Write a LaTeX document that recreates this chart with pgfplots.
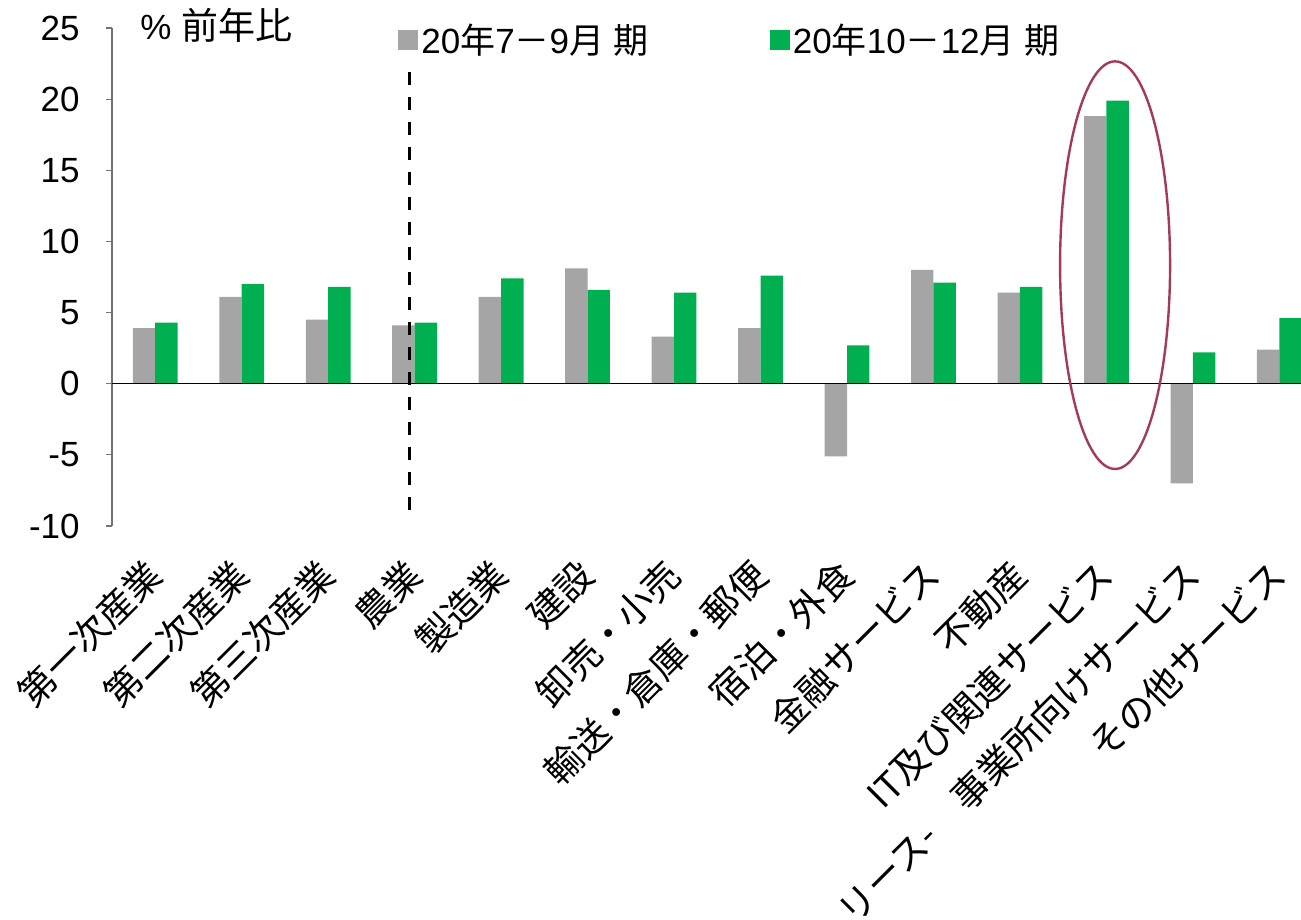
\documentclass[border=0pt]{standalone}
\usepackage{pgfplots}
\pgfplotsset{compat=1.18}
\usepackage{fontspec}
\setmainfont{Liberation Sans}
\newfontfamily\cjk{Noto Sans CJK JP}
\definecolor{cgray}{HTML}{A5A5A5}
\definecolor{cgreen}{HTML}{00B050}
\definecolor{cellipse}{HTML}{A33A5C}
\newcommand{\fs}{\fontsize{17.5}{21}\selectfont}
\newcommand{\fl}{\fontsize{18.5}{22}\selectfont}
\begin{document}
\begin{tikzpicture}
\begin{axis}[
 width=594.5pt, height=249pt, scale only axis,
 xmin=-0.5, xmax=13.25, ymin=-10, ymax=25,
 clip=false,
 axis x line*=bottom, axis y line*=left,
 x axis line style={draw=none},
 y axis line style={draw=black!55, line width=0.6pt, -},
 xtick={0,...,13}, xtick style={draw=none},
 xticklabels={第一次産業,第二次産業,第三次産業,農業,製造業,建設,卸売・小売,輸送・倉庫・郵便,宿泊・外食,金融サービス,不動産,IT及び関連サービス,リース-　事業所向けサービス,その他サービス},
 xticklabel style={font=\cjk\fl, yshift=-18pt, rotate=45, anchor=east, inner sep=0pt},
 ytick={-10,-5,...,25}, yticklabels={-10,-5,0,5,10,15,20,25},
 yticklabel style={font=\fs, inner sep=0pt, xshift=-13pt},
 tick align=outside, major tick length=3pt,
 ytick style={draw=black!55, line width=0.6pt},
 ybar, bar width=11.2pt,
 legend columns=2,
 legend style={at={(0.2405,0.976)}, anchor=west, draw=none, fill=none, inner sep=0pt, font=\fs,
   nodes={inner sep=1.5pt},
   /tikz/every even column/.append style={column sep=59pt}},
]
\addplot[fill=cgray, draw=none, bar shift=-5.6pt,
  legend image code/.code={\fill[cgray] (0pt,-5pt) rectangle (10pt,5pt);}]
 coordinates {(0,3.9) (1,6.1) (2,4.5) (3,4.1) (4,6.1) (5,8.1) (6,3.3) (7,3.9) (8,-5.1) (9,8.0) (10,6.4) (11,18.8) (12,-7.0) (13,2.4)};
\addlegendentry{20{\cjk 年}7{\cjk －}9{\cjk 月} {\cjk 期}}
\addplot[fill=cgreen, draw=none, bar shift=5.6pt,
  legend image code/.code={\fill[cgreen] (0pt,-5pt) rectangle (10pt,5pt);}]
 coordinates {(0,4.3) (1,7.0) (2,6.8) (3,4.3) (4,7.4) (5,6.6) (6,6.4) (7,7.6) (8,2.7) (9,7.1) (10,6.8) (11,19.9) (12,2.2) (13,4.6)};
\addlegendentry{20{\cjk 年}10{\cjk －}12{\cjk 月} {\cjk 期}}
\draw[black, line width=0.8pt] (axis cs:-0.5,0) -- (axis cs:13.25,0);
\draw[black, line width=1.5pt, dash pattern=on 6.5pt off 6pt] (axis cs:2.94,21.9) -- (axis cs:2.94,-9.2);
\draw[cellipse, line width=1.2pt] (axis cs:11.1,8.33) ellipse [x radius=27.5pt, y radius=101.9pt];
\node[anchor=west, font=\fs, inner sep=0pt] at (rel axis cs:0.0235,1.006) {\%{} {\cjk\fl 前年比}};
\coordinate (ll) at (rel axis cs:-0.0942,-0.791);
\coordinate (ur) at (rel axis cs:1,1.0562);
\end{axis}
\pgfresetboundingbox
\useasboundingbox (ll) rectangle (ur);
\end{tikzpicture}
\end{document}
